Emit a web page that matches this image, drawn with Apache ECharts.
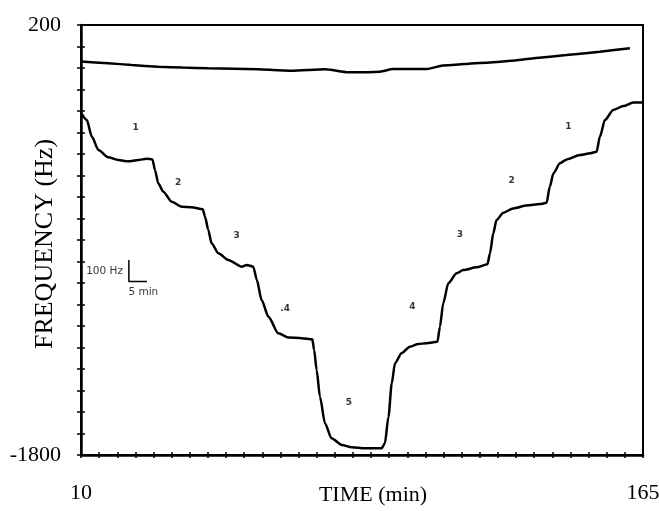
<!DOCTYPE html>
<html>
<head>
<meta charset="utf-8">
<script src="https://cdn.jsdelivr.net/npm/echarts@6/dist/echarts.min.js"></script>
<style>html,body{margin:0;padding:0;background:#fff;}#c{width:659px;height:511px;}</style>
</head>
<body>
<div id="c"></div>
<script>
// Main stepped trace (time in min, frequency in Hz)
var mainTime = [10,11.6,13.0,14.8,17.5,20.3,23.0,25.8,28.1,29.7,30.4,31.3,32.7,35.0,37.8,40.5,43.6,44.2,45.1,46.0,47.9,50.6,54.3,55.7,57.5,58.5,59.8,61.7,64.4,67.2,70.9,73.8,74.3,75.0,75.9,77.3,79.1,81.9,84.7,88.3,92.9,93.8,94.8,95.7,96.6,98.4,100.7,103.0,105.3,108.3,109.0,109.9,111.3,113.6,115.4,119.1,122.1,122.8,123.7,124.6,126.5,129.2,132.9,136.6,138.4,139.3,140.3,142.1,144.0,147.6,150.4,152.2,153.1,154.5,156.8,159.6,162.3,165];
var mainFreq = [-208,-242,-320,-381,-415,-428,-434,-428,-422,-425,-474,-536,-575,-622,-645,-648,-657,-692,-753,-815,-862,-893,-924,-916,-924,-986,-1079,-1157,-1234,-1253,-1257,-1262,-1312,-1405,-1529,-1653,-1722,-1753,-1764,-1769,-1769,-1746,-1622,-1467,-1373,-1327,-1296,-1284,-1280,-1273,-1203,-1094,-1001,-955,-940,-927,-913,-862,-769,-707,-673,-653,-640,-633,-627,-552,-490,-443,-425,-405,-397,-389,-320,-242,-195,-177,-161,-161];

// Upper (reference) trace
var refTime = [10,17.5,24.0,31.3,38.0,45.1,52.0,58.9,68.1,77.3,83.7,92.5,96.1,105.3,109.0,116.4,125.6,134.8,143.9,153.1,161.4];
var refFreq = [30,22,14,6,2,-1,-3,-6,-13,-6,-20,-17,-5,-5,9,19,29,45,60,76,92];

// Step number annotations
var stepTime = [25.1,36.8,52.9,66.3,83.9,101.4,114.5,128.8,144.4];
var stepFreq = [-276,-532,-781,-1121,-1557,-1110,-777,-526,-273];
var stepText = ['1','2','3','.4','5','4','3','2','1'];

// Scale bar (100 Hz / 5 min)
var barTime = [23.2,23.2,28.2];
var barFreq = [-893,-993,-993];
var barLabelTime = [16.5,27.2];
var barLabelFreq = [-947,-1042];
var barLabelText = ['100 Hz','5 min'];

// Axis ranges and labels
var xMin = 10, xMax = 165, xStep = 5;
var yMin = -1800, yMax = 200, yStep = 100;
var xTickLabels = [10,165];
var yTickLabels = [200,-1800];

function zip(a,b){ return a.map(function(v,i){ return [v,b[i]]; }); }

var serif = 'Liberation Serif';
var sans = 'DejaVu Sans';

var chart = echarts.init(document.getElementById('c'), null, {renderer:'canvas'});
var tickStyle = {color:'#000', width:1.5};
chart.setOption({
  animation:false,
  backgroundColor:'#fff',
  grid:{left:81, top:25, right:16, bottom:56, containLabel:false, outerBoundsMode:'none',
        show:true, borderColor:'#000', borderWidth:2, backgroundColor:'transparent'},
  xAxis:[{
    type:'value', min:xMin, max:xMax, interval:xStep, position:'bottom',
    axisLine:{show:true, onZero:false, lineStyle:{color:'#000', width:2.5}},
    axisTick:{show:true, inside:false, length:3, lineStyle:tickStyle},
    splitLine:{show:false},
    axisLabel:{show:true, margin:27, color:'#000', fontFamily:serif, fontSize:22,
      formatter:function(v){ return xTickLabels.indexOf(v)>=0 ? String(v) : ''; }},
    name:'TIME (min)', nameLocation:'middle', nameGap:29, nameMoveOverlap:false,
    nameTextStyle:{color:'#000', fontFamily:serif, fontSize:22, padding:[0,0,0,22]}
  },{
    type:'value', min:xMin, max:xMax, interval:xStep, position:'bottom', offset:0,
    axisLine:{show:false, onZero:false}, axisTick:{show:true, inside:true, length:3, lineStyle:tickStyle},
    axisLabel:{show:false}, splitLine:{show:false}
  }],
  yAxis:[{
    type:'value', min:yMin, max:yMax, interval:yStep, position:'left',
    axisLine:{show:true, onZero:false, lineStyle:{color:'#000', width:2.5}},
    axisTick:{show:true, inside:false, length:4, lineStyle:tickStyle},
    splitLine:{show:false},
    axisLabel:{show:true, margin:20, color:'#000', fontFamily:serif, fontSize:22,
      formatter:function(v){ return yTickLabels.indexOf(v)>=0 ? String(v) : ''; }},
    name:'FREQUENCY (Hz)', nameLocation:'middle', nameGap:23, nameMoveOverlap:false,
    nameTextStyle:{color:'#000', fontFamily:serif, fontSize:26, padding:[0,8,0,0]}
  },{
    type:'value', min:yMin, max:yMax, interval:yStep, position:'left', offset:0,
    axisLine:{show:false, onZero:false}, axisTick:{show:true, inside:true, length:4, lineStyle:tickStyle},
    axisLabel:{show:false}, splitLine:{show:false}
  }],
  series:[
    {type:'line', data:zip(refTime,refFreq), showSymbol:false, symbol:'none', smooth:0.2,
     lineStyle:{color:'#000', width:2.5}},
    {type:'line', data:zip(mainTime,mainFreq), showSymbol:false, symbol:'none', smooth:0.25, smoothMonotone:'x',
     lineStyle:{color:'#000', width:2.5}},
    {type:'line', data:zip(barTime,barFreq), showSymbol:false, symbol:'none',
     lineStyle:{color:'#000', width:1.5}},
    {type:'scatter', symbolSize:1, itemStyle:{color:'transparent'},
     data:stepTime.map(function(t,i){ return {value:[t,stepFreq[i]], name:stepText[i]}; }),
     label:{show:true, position:'inside', formatter:'{b}', color:'#000', fontFamily:sans, fontSize:9, fontWeight:'bold'}},
    {type:'scatter', symbolSize:1, itemStyle:{color:'transparent'},
     data:barLabelTime.map(function(t,i){ return {value:[t,barLabelFreq[i]], name:barLabelText[i]}; }),
     label:{show:true, position:'inside', formatter:'{b}', color:'#000', fontFamily:sans, fontSize:10.5}}
  ]
});
</script>
</body>
</html>
